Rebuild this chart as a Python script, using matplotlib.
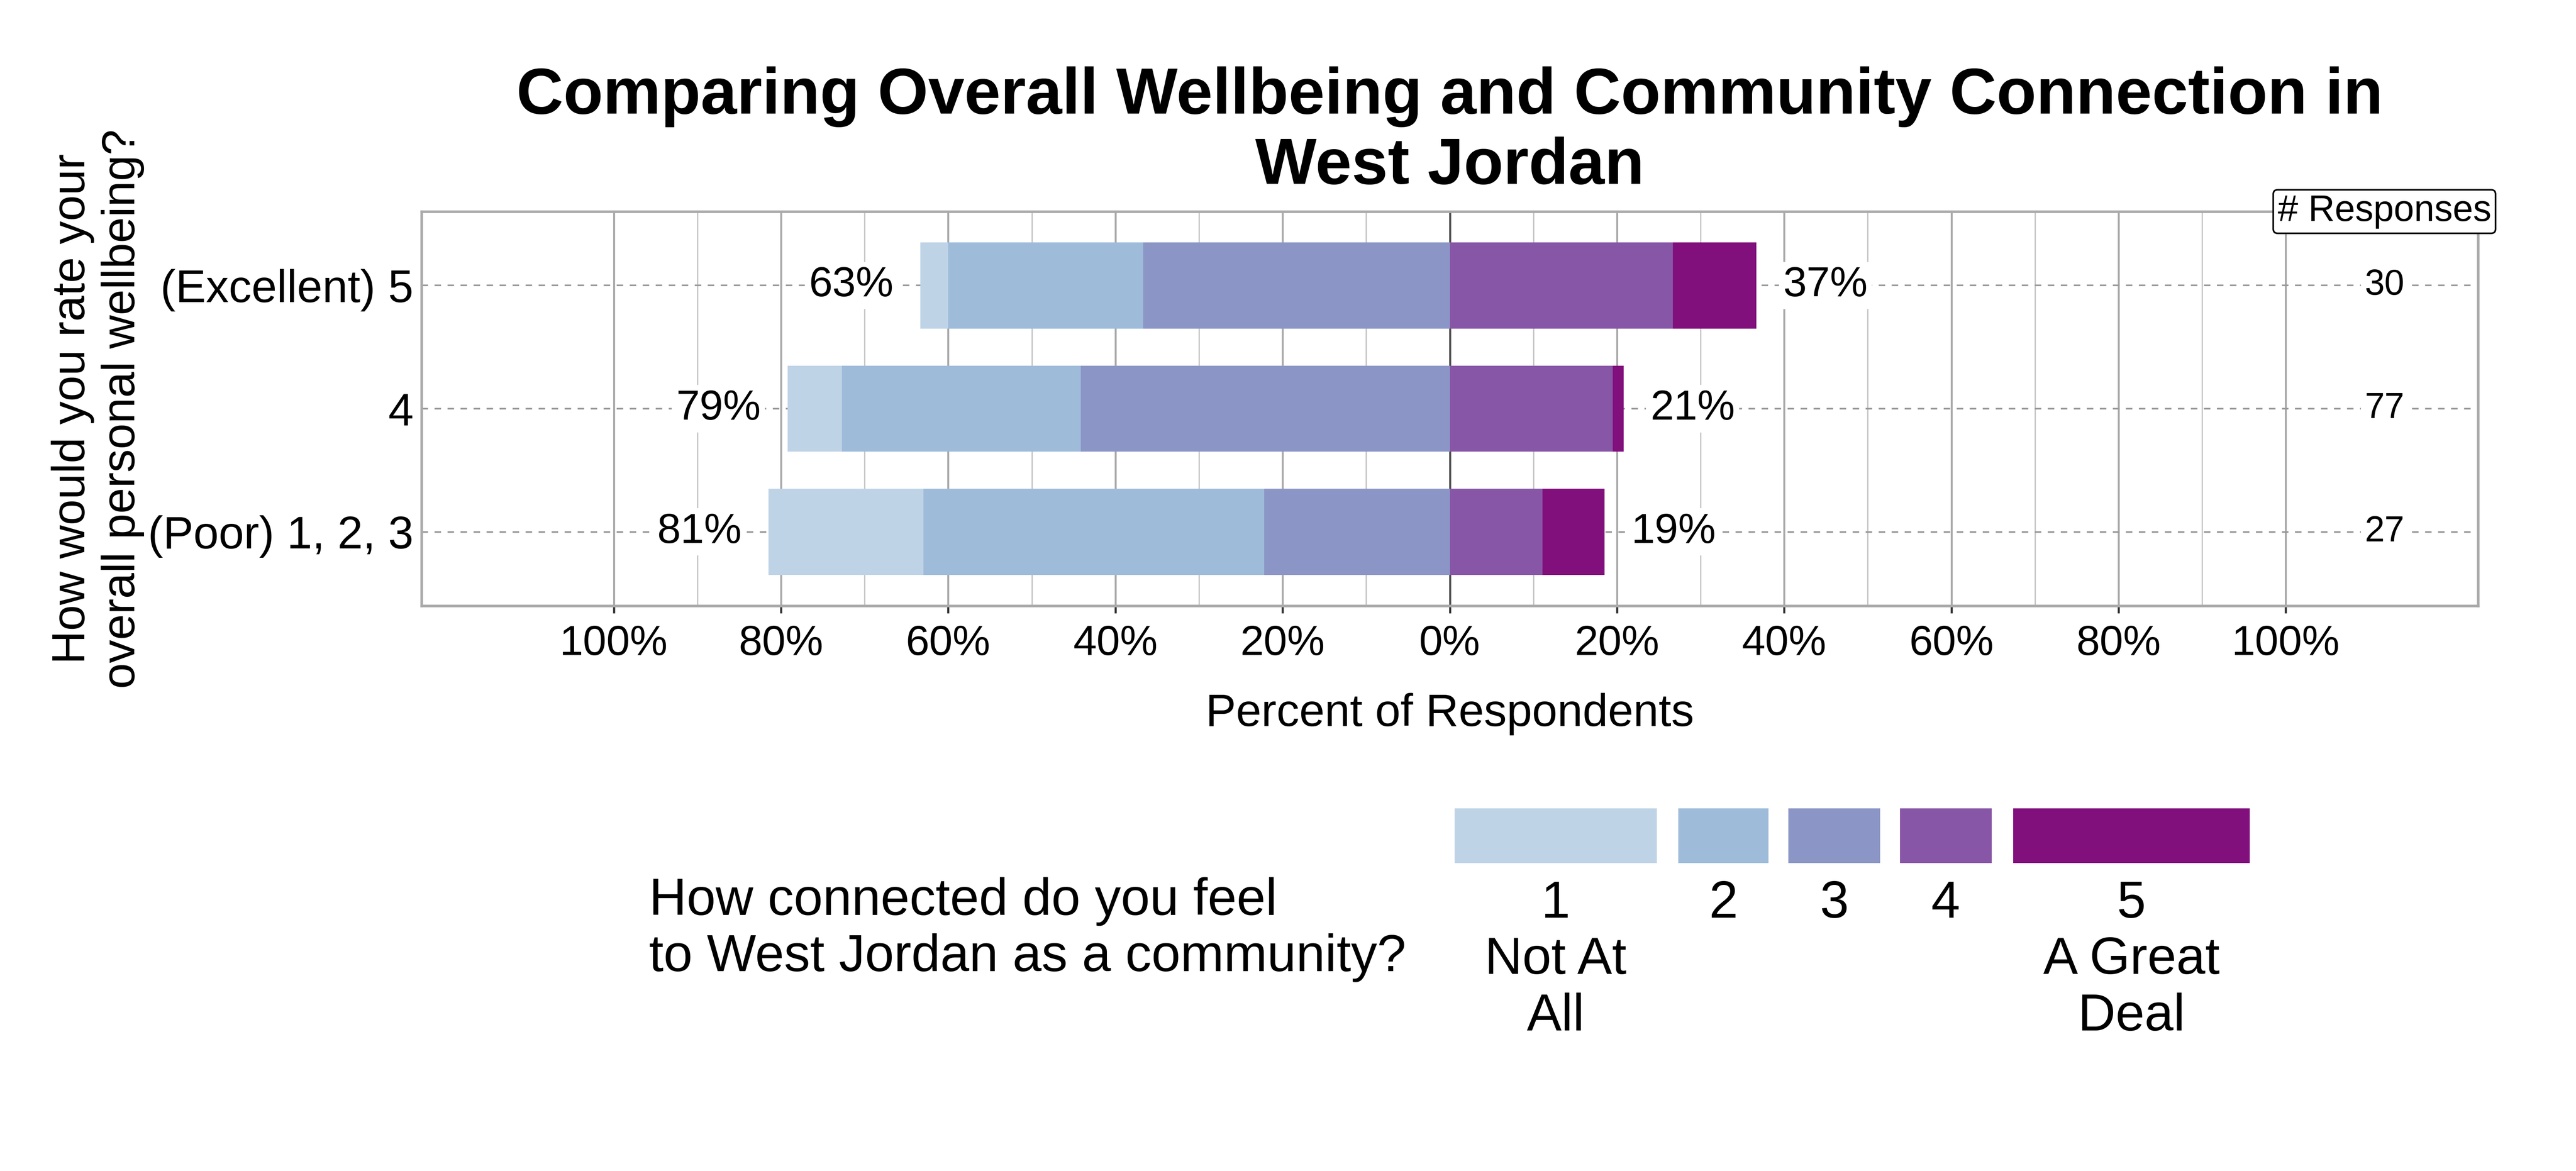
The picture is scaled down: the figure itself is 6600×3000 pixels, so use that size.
import matplotlib
matplotlib.use("Agg")
import matplotlib.pyplot as plt
import matplotlib.transforms as mtransforms
from matplotlib.patches import Rectangle
import numpy as np

plt.rcParams["font.family"] = ["Liberation Sans", "DejaVu Sans"]

# y rows, bottom to top
wellbeing = ["(Poor) 1, 2, 3", "4", "(Excellent) 5"]
# answer counts per connection level (1..5), one entry per row
level_1 = [5, 5, 1]
level_2 = [11, 22, 7]
level_3 = [6, 34, 11]
level_4 = [3, 15, 8]
level_5 = [2, 1, 3]

level_names = ["1\nNot At\nAll", "2", "3", "4", "5\nA Great\nDeal"]
level_colors = ["#bfd3e6", "#9ebcda", "#8c96c6", "#8856a7", "#810f7c"]
x_ticks = [-100, -80, -60, -40, -20, 0, 20, 40, 60, 80, 100]

title = "Comparing Overall Wellbeing and Community Connection in\nWest Jordan"
y_title = "How would you rate your\noverall personal wellbeing?"
legend_title = "How connected do you feel\nto West Jordan as a community?"

counts = np.array([level_1, level_2, level_3, level_4, level_5], dtype=float)
n_resp = counts.sum(axis=0)
pct = counts / n_resp * 100
neg = pct[:3].sum(axis=0)
pos = pct[3:].sum(axis=0)
y = np.arange(1, len(wellbeing) + 1)

W, H = 6600, 3000
fig = plt.figure(figsize=(22, 10), dpi=300)
ax = fig.add_axes([1080 / W, 1 - 1552 / H, (6349 - 1080) / W, (1552 - 542) / H])

# levels 1-3 go left of zero, 4-5 right
for i in range(5):
    if i < 3:
        left = -pct[i:3].sum(axis=0)
    else:
        left = pct[3:i].sum(axis=0)
    ax.barh(y, pct[i], left=left, height=0.7, color=level_colors[i], zorder=2)

ax.set_xlim(-123, 123)
ax.set_ylim(0.4, 3.6)
ax.set_axisbelow(True)

ax.set_xticks(x_ticks)
ax.set_xticklabels([f"{abs(t)}%" for t in x_ticks], fontsize=26)
ax.set_xticks(np.arange(-90, 100, 20), minor=True)
ax.tick_params(axis="x", which="major", length=4.5, width=1.3, color="#333333", pad=7)
ax.tick_params(axis="x", which="minor", length=0)
ax.grid(axis="x", which="major", color="#aaaaaa", lw=1.2)
ax.grid(axis="x", which="minor", color="#c4c4c4", lw=0.8)
ax.axvline(0, color="#555555", lw=1.3, zorder=1.5)

ax.set_yticks(y)
ax.set_yticklabels(wellbeing, fontsize=28)
ax.tick_params(axis="y", length=0, pad=5)
ax.grid(axis="y", color="#999999", lw=1, ls=(0, (4, 4)))

for sp in ax.spines.values():
    sp.set_color("#aaaaaa")
    sp.set_linewidth(1.6)

ax.set_xlabel("Percent of Respondents", fontsize=28, labelpad=18)
ax.set_title(title, fontsize=40, fontweight="bold", pad=17)
fig.text(0.038, 1 - 1047 / H, y_title, rotation=90, ha="center", va="center", fontsize=28.5)

box = dict(boxstyle="square,pad=0.1", fc="white", ec="none")
for yi, a, b, n in zip(y, neg, pos, n_resp):
    ax.text(-a - 3.2, yi, f"{a:.0f}%", ha="right", va="center", fontsize=26, bbox=box, zorder=3)
    ax.text(b + 3.2, yi, f"{b:.0f}%", ha="left", va="center", fontsize=26, bbox=box, zorder=3)
    ax.text(111.8, yi, f"{n:.0f}", ha="center", va="center", fontsize=22, bbox=box, zorder=3)

trans = mtransforms.blended_transform_factory(ax.transData, ax.transAxes)
ax.text(111.8, 1.0, "# Responses", transform=trans, ha="center", va="center", fontsize=22.5,
        bbox=dict(boxstyle="round,pad=0.12", fc="white", ec="black", lw=1), clip_on=False, zorder=5)

# legend drawn by hand: boxes of uneven width like the original
leg_x = [(3729, 4243), (4302, 4529), (4584, 4815), (4870, 5101), (5160, 5762)]
for (x0, x1), c, name in zip(leg_x, level_colors, level_names):
    fig.add_artist(Rectangle((x0 / W, 1 - 2209 / H), (x1 - x0) / W, 136 / H,
                             transform=fig.transFigure, color=c))
    fig.text((x0 + x1) / 2 / W, 1 - 2254 / H, name, ha="center", va="top", fontsize=32)
fig.text(1663 / W, 1 - 2247 / H, legend_title, ha="left", va="top", fontsize=32)

fig.savefig("out.png", dpi=300)
